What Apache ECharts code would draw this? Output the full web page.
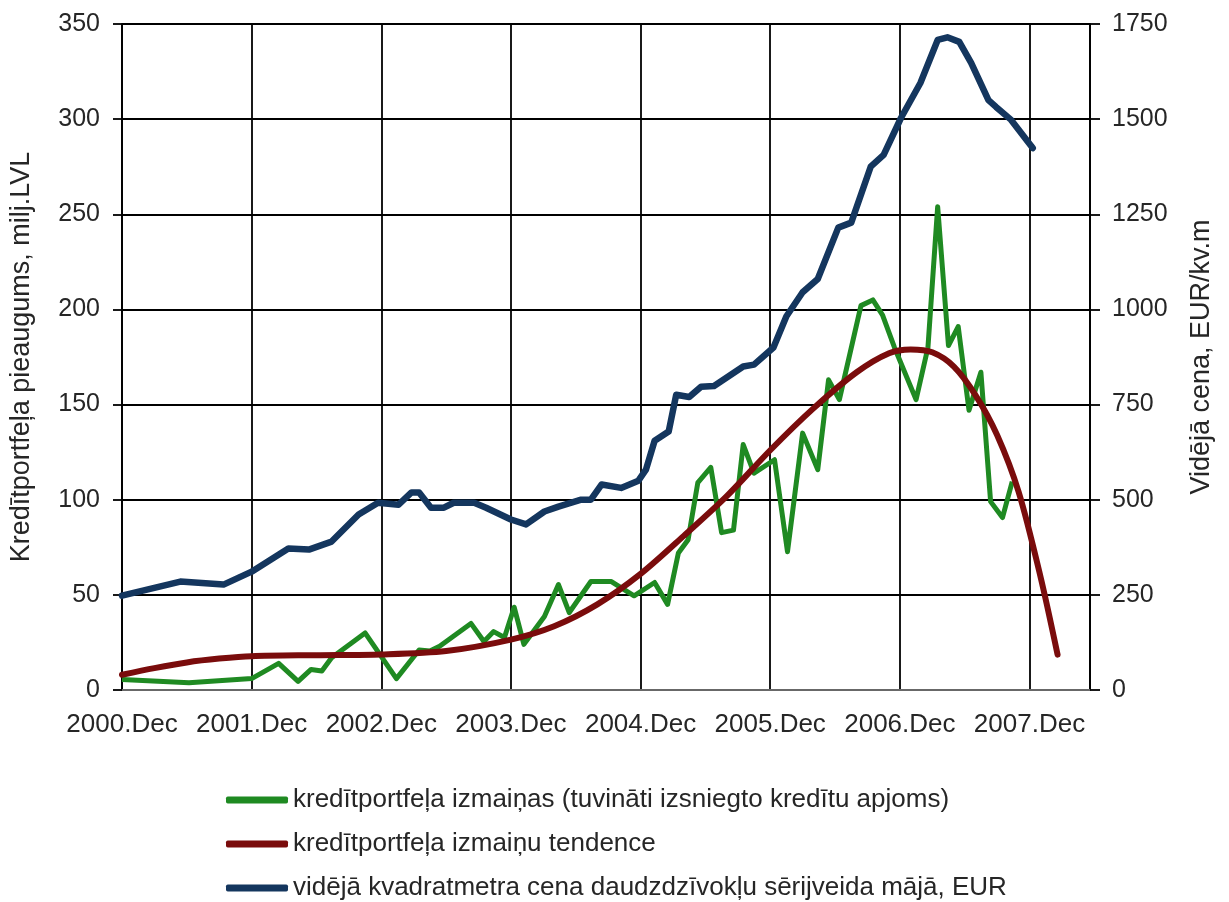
<!DOCTYPE html>
<html>
<head>
<meta charset="utf-8">
<script src="https://cdn.jsdelivr.net/npm/echarts@6/dist/echarts.min.js"></script>
<style>
  html, body { margin: 0; padding: 0; background: #ffffff; }
  #chart { width: 1229px; height: 902px; }
</style>
</head>
<body>
<div id="chart"></div>
<script>
// Month index: 0 = 2000.Dec, 12 = 2001.Dec, ...
const xTickLabels = ['2000.Dec', '2001.Dec', '2002.Dec', '2003.Dec', '2004.Dec', '2005.Dec', '2006.Dec', '2007.Dec'];

// Loan portfolio change (approx. issued credit volume), mln LVL
const loanMonths = [0, 6.2, 12, 14.5, 16.3, 17.5, 18.5, 19.4, 22.5, 25.4, 27.5, 28.5, 29.4, 32.3, 33.5, 34.4, 35.4, 36.3, 37.2, 39.1, 40.4, 41.4, 43.4, 45.3, 47.4, 49.3, 50.5, 51.5, 52.4, 53.3, 54.5, 55.5, 56.6, 57.5, 58.5, 60.4, 61.6, 63, 64.4, 65.4, 66.4, 68.4, 69.5, 70.4, 71.5, 73.5, 74.6, 75.5, 76.5, 77.4, 78.4, 79.5, 80.4, 81.5, 82.4];
const loanValues = [5.5, 3.8, 6, 14, 4.5, 10.8, 10, 17, 30, 6, 21, 20.5, 23, 35, 25.5, 30.7, 27.6, 43.5, 24, 38.6, 55.4, 40.7, 57, 57, 49.5, 56.5, 45, 72, 79, 109, 117, 82.7, 84, 129, 114, 121, 72.7, 135, 115.8, 163, 152.6, 202, 205, 197, 180, 152.6, 180, 254, 181, 191, 147, 167, 99, 90.6, 109.5];

// Trend of the loan portfolio change, mln LVL
const trendMonths = [0, 3, 6, 9, 12, 18, 24, 30, 36, 40, 44, 48, 52, 56, 60, 64, 68, 71, 73, 75, 77, 79, 81, 83, 85, 86.6];
const trendValues = [8, 11.5, 14.5, 16.5, 17.8, 18.3, 18.7, 20.5, 26.5, 33.5, 45, 61, 81, 102, 126, 148, 167, 177, 179, 177.5, 170, 155, 134, 104, 60, 18.6];

// Average price per square metre, EUR
const priceMonths = [0, 5.4, 9.4, 12, 15.4, 17.3, 19.4, 21.9, 23.7, 25.6, 26.8, 27.5, 28.6, 29.8, 30.7, 32.6, 33.7, 36, 37.4, 39.1, 40.4, 42.5, 43.4, 44.4, 46.2, 47.8, 48.5, 49.3, 50.6, 51.3, 52.5, 53.6, 54.8, 57.5, 58.5, 60.3, 61.5, 63, 64.4, 66.3, 67.5, 69.3, 70.5, 72.1, 73.9, 75.5, 76.4, 77.5, 78.6, 80.2, 80.9, 82.3, 84.3];
const priceValues = [248, 285, 277, 311, 372, 369, 390, 461, 492, 487, 519, 519, 479, 479, 492, 492, 479, 448, 435, 469, 482, 500, 500, 540, 531, 550, 579, 655, 679, 776, 770, 797, 799, 850, 855, 900, 982, 1045, 1080, 1215, 1228, 1375, 1406, 1503, 1595, 1708, 1715, 1703, 1648, 1550, 1532, 1498, 1424];

const seriesNames = [
  'kredītportfeļa izmaiņas (tuvināti izsniegto kredītu apjoms)',
  'kredītportfeļa izmaiņu tendence',
  'vidējā kvadratmetra cena daudzdzīvokļu sērijveida mājā, EUR'
];

const pairs = (xs, ys) => xs.map((x, i) => [x, ys[i]]);

const FONT = '"Liberation Sans", Arial, sans-serif';
const TEXT = '#262626';
const GRID_LINE = { show: true, lineStyle: { color: '#000000', width: 1.8 } };

const chart = echarts.init(document.getElementById('chart'), null, { renderer: 'canvas' });

chart.setOption({
  animation: false,
  backgroundColor: '#ffffff',
  textStyle: { fontFamily: FONT, color: TEXT },
  grid: { left: 120, top: 24, width: 970, height: 666 },
  legend: {
    data: seriesNames,
    orient: 'vertical',
    left: 226,
    top: 787,
    height: 115,
    icon: 'roundRect',
    itemWidth: 62,
    itemHeight: 7,
    itemGap: 18,
    padding: 0,
    textStyle: { fontFamily: FONT, fontSize: 26, color: TEXT, lineHeight: 26 }
  },
  xAxis: {
    type: 'value',
    min: 0,
    max: 89.6,
    interval: 12,
    axisLine: { show: true, lineStyle: { color: '#8a8a8a', width: 1.5 } },
    axisTick: { show: false },
    splitLine: GRID_LINE,
    axisLabel: {
      fontFamily: FONT,
      fontSize: 26,
      color: TEXT,
      margin: 22,
      formatter: function (v) {
        const i = Math.round(v / 12);
        return (Math.abs(v - i * 12) < 1e-6 && i < xTickLabels.length) ? xTickLabels[i] : '';
      }
    }
  },
  yAxis: [
    {
      type: 'value',
      position: 'left',
      min: 0,
      max: 350,
      interval: 50,
      name: 'Kredītportfeļa pieaugums, milj.LVL',
      nameLocation: 'middle',
      nameRotate: 90,
      nameGap: 87,
      nameTextStyle: { fontFamily: FONT, fontSize: 27, color: TEXT },
      axisLine: { show: true, lineStyle: { color: '#000000', width: 1.8 } },
      axisTick: { show: true, length: 9, lineStyle: { color: '#000000', width: 1.8 } },
      splitLine: GRID_LINE,
      axisLabel: { fontFamily: FONT, fontSize: 25, color: TEXT, margin: 22, formatter: v => String(v) }
    },
    {
      type: 'value',
      position: 'right',
      min: 0,
      max: 1750,
      interval: 250,
      name: 'Vidējā cena, EUR/kv.m',
      nameLocation: 'middle',
      nameRotate: 90,
      nameGap: 98,
      nameTextStyle: { fontFamily: FONT, fontSize: 27, color: TEXT },
      axisLine: { show: true, lineStyle: { color: '#000000', width: 1.8 } },
      axisTick: { show: true, length: 10, lineStyle: { color: '#000000', width: 1.8 } },
      splitLine: { show: false },
      axisLabel: { fontFamily: FONT, fontSize: 25, color: TEXT, margin: 22, formatter: v => String(v) }
    }
  ],
  series: [
    {
      name: seriesNames[0],
      type: 'line',
      yAxisIndex: 0,
      data: pairs(loanMonths, loanValues),
      showSymbol: false,
      color: '#1f8a22',
      lineStyle: { color: '#1f8a22', width: 5, join: 'round' },
      z: 3
    },
    {
      name: seriesNames[1],
      type: 'line',
      yAxisIndex: 0,
      data: pairs(trendMonths, trendValues),
      showSymbol: false,
      smooth: 0.3,
      color: '#7a0c0c',
      lineStyle: { color: '#7a0c0c', width: 6, cap: 'round' },
      z: 4
    },
    {
      name: seriesNames[2],
      type: 'line',
      yAxisIndex: 1,
      data: pairs(priceMonths, priceValues),
      showSymbol: false,
      color: '#14365e',
      lineStyle: { color: '#14365e', width: 6.5, join: 'round', cap: 'round' },
      z: 5
    }
  ]
});
</script>
</body>
</html>
